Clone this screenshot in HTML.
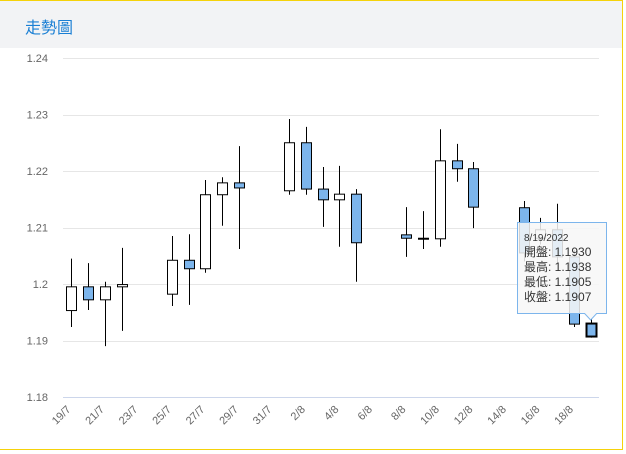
<!DOCTYPE html>
<html><head><meta charset="utf-8"><style>
body{margin:0;background:#fff;font-family:"Liberation Sans","Noto Sans CJK TC",sans-serif;}
#wrap{position:relative;width:626px;height:454px;overflow:hidden;}
#frame{position:absolute;left:-2px;top:0;width:624px;height:448px;border:1px solid #f5d20a;border-left:none;}
#hdr{position:absolute;left:0;top:1px;width:623px;height:47px;background:#f2f3f5;}
#title{position:absolute;left:25px;top:13px;font-size:16px;color:#1a7fd4;font-family:"Liberation Sans","Noto Sans CJK TC",sans-serif;}
svg{position:absolute;left:0;top:0;}
</style></head><body>
<div id="wrap">
<div id="hdr"><span id="title">走勢圖</span></div>
<div id="frame"></div>
<svg id="chart" width="626" height="454"></svg>
</div>
<script>
const dates=["19/7","20/7","21/7","22/7","23/7","24/7","25/7","26/7","27/7","28/7","29/7","30/7","31/7","1/8","2/8","3/8","4/8","5/8","6/8","7/8","8/8","9/8","10/8","11/8","12/8","13/8","14/8","15/8","16/8","17/8","18/8","19/8"];
const openVals=[1.1953,1.1995,1.1972,1.1995,null,null,1.1982,1.2042,1.2027,1.2158,1.2179,null,null,1.2165,1.2250,1.2168,1.2149,1.2159,null,null,1.2087,1.2081,1.2080,1.2218,1.2204,null,null,1.2135,1.2081,1.2096,1.2048,1.1930];
const highVals=[1.2045,1.2037,1.2004,1.2064,null,null,1.2085,1.2088,1.2184,1.2189,1.2244,null,null,1.2292,1.2278,1.2207,1.2209,1.2168,null,null,1.2136,1.2129,1.2274,1.2248,1.2216,null,null,1.2147,1.2117,1.2142,1.2060,1.1938];
const lowVals=[1.1924,1.1954,1.1890,1.1917,null,null,1.1961,1.1963,1.2020,1.2103,1.2062,null,null,1.2158,1.2158,1.2101,1.2066,1.2004,null,null,1.2048,1.2062,1.2066,1.2181,1.2099,null,null,1.2040,1.2070,1.2035,1.1924,1.1905];
const closeVals=[1.1995,1.1972,1.1995,1.1999,null,null,1.2042,1.2027,1.2158,1.2179,1.2170,null,null,1.2250,1.2168,1.2149,1.2159,1.2073,null,null,1.2081,1.2080,1.2218,1.2204,1.2136,null,null,1.2055,1.2096,1.2048,1.1929,1.1907];
const yTicks=[1.18,1.19,1.2,1.21,1.22,1.23,1.24];
const yTickLabels=["1.18","1.19","1.2","1.21","1.22","1.23","1.24"];

const NS="http://www.w3.org/2000/svg";
const svg=document.getElementById('chart');
const X0=63,BW=16.75,YT=58,YB=397,YMIN=1.18,YMAX=1.24;
function xs(i){return X0+BW*(i+0.5);}
function ys(v){return YB-(v-YMIN)/(YMAX-YMIN)*(YB-YT);}
function mk(t,a){const e=document.createElementNS(NS,t);for(const k in a)e.setAttribute(k,a[k]);svg.appendChild(e);return e;}

yTicks.forEach((v,i)=>{
  const g=mk('line',{x1:X0,x2:599,y1:Math.round(ys(v))+0.5,y2:Math.round(ys(v))+0.5,stroke:i==0?'#ccd6eb':'#e6e6e6','stroke-width':1});
  
  
  const t=mk('text',{x:48,y:ys(v)+4,'text-anchor':'end','font-size':11,fill:'#666','font-family':'Liberation Sans, sans-serif'});
  t.textContent=yTickLabels[i];
  
  
});
dates.forEach((d,i)=>{
  if(i%2)return;
  const x=xs(i),y=410;
  const t=mk('text',{x:x,y:y,'text-anchor':'end','font-size':11,fill:'#666','font-family':'Liberation Sans, sans-serif',transform:`rotate(-45 ${x} ${y})`});
  t.textContent=d;
  
  
});
const last=dates.length-1;
dates.forEach((d,i)=>{
  if(openVals[i]==null)return;
  const o=openVals[i],c=closeVals[i],h=highVals[i],l=lowVals[i];
  const x=Math.round(xs(i))+0.5;
  const w=mk('line',{x1:x,x2:x,y1:ys(h),y2:ys(l),stroke:'#000','stroke-width':1});
  
  
  const top=ys(Math.max(o,c)),bot=ys(Math.min(o,c));
  const r=mk('rect',{x:x-5,y:top,width:10,height:Math.max(bot-top,1),fill:c>=o?'#fff':'#7cb5ec',stroke:'#000','stroke-width':i==last?2:1});
  
  
});
// tooltip
const tg=document.createElementNS(NS,'g');svg.appendChild(tg);


const tx=xs(last);
const p=document.createElementNS(NS,'path');
p.setAttribute('d',`M517.5,222.5 H606.5 V313.5 H${tx+6} L${tx},320 L${tx-6},313.5 H517.5 Z`);
p.setAttribute('fill','rgba(247,247,247,0.85)');p.setAttribute('stroke','#7cb5ec');p.setAttribute('stroke-width','1');
tg.appendChild(p);
const lines=["8/19/2022","開盤: "+openVals[last].toFixed(4),"最高: "+highVals[last].toFixed(4),"最低: "+lowVals[last].toFixed(4),"收盤: "+closeVals[last].toFixed(4)];
lines.forEach((s,i)=>{
  const t=document.createElementNS(NS,'text');
  t.setAttribute('x',524);t.setAttribute('y',i==0?241:256+(i-1)*15);
  t.setAttribute('font-size',i==0?10:12);t.setAttribute('fill','#333');
  t.setAttribute('font-family','Liberation Sans, Noto Sans CJK TC, sans-serif');
  t.textContent=s;
  
  
  tg.appendChild(t);
});
</script>
</body></html>
